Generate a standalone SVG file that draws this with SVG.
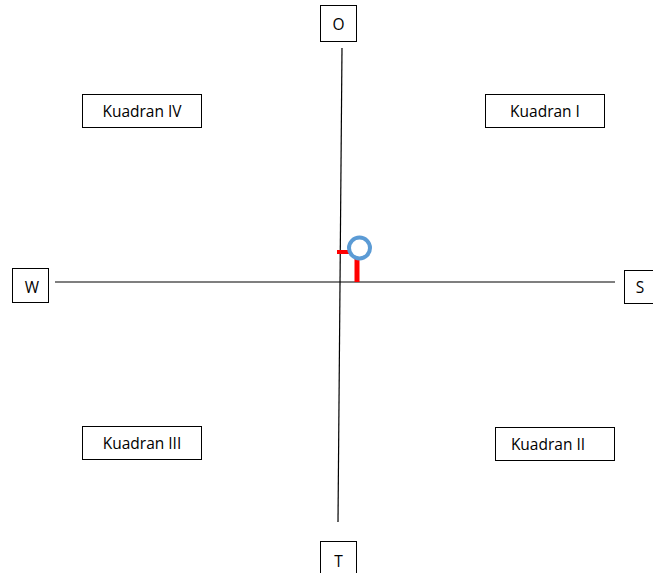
<svg xmlns="http://www.w3.org/2000/svg" width="653" height="573" viewBox="0 0 653 573">
<style>
.box{fill:#fff;stroke:#000;stroke-width:1}
.t{font-family:"Open Sans","Liberation Sans",sans-serif;font-size:15.5px;fill:#000;text-anchor:middle}
.ax{stroke:#000;stroke-width:1.2;fill:none}
</style>
<rect width="653" height="573" fill="#fff"/>
<g id="connectors">
<line class="ax" x1="342" y1="48" x2="338" y2="522"/>
<line class="ax" x1="55" y1="282" x2="615" y2="282"/>
</g>
<g id="marker">
<rect x="354.5" y="259" width="5" height="23" fill="#ff0000"/>
<rect x="337" y="250" width="12" height="4" fill="#ff0000"/>
<circle cx="359.5" cy="248" r="10.5" fill="#fff" stroke="#5b9bd5" stroke-width="4"/>
</g>
<g id="O"><rect class="box" x="320.5" y="5.5" width="36" height="36"/><text class="t" x="338.5" y="30">O</text></g>
<g id="T"><rect class="box" x="320.5" y="541.5" width="36" height="36"/><text class="t" x="338.5" y="567">T</text></g>
<g id="W"><rect class="box" x="12.5" y="268.5" width="36" height="34"/><text class="t" x="32" y="293">W</text></g>
<g id="S"><rect class="box" x="624.5" y="270.5" width="36" height="33"/><text class="t" x="640" y="293">S</text></g>
<g id="kuadran4"><rect class="box" x="82.5" y="94.5" width="119" height="33"/><text class="t" x="142" y="117">Kuadran IV</text></g>
<g id="kuadran1"><rect class="box" x="485.5" y="94.5" width="119" height="33"/><text class="t" x="545" y="117">Kuadran I</text></g>
<g id="kuadran3"><rect class="box" x="82.5" y="426.5" width="119" height="33"/><text class="t" x="142" y="449">Kuadran III</text></g>
<g id="kuadran2"><rect class="box" x="495.5" y="427.5" width="119" height="33"/><text class="t" x="548" y="450">Kuadran II</text></g>
</svg>
